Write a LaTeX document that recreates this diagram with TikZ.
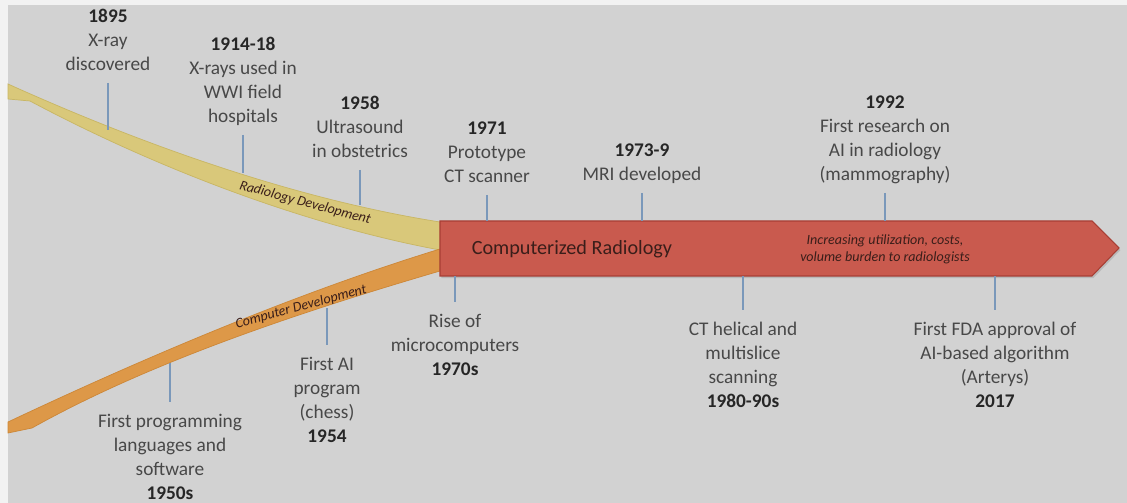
\documentclass[tikz,border=0pt]{standalone}
\usepackage{fontspec}
\setmainfont{Carlito}
\usetikzlibrary{shadows}

\definecolor{bggray}{RGB}{210,210,210}
\definecolor{txtgray}{RGB}{72,72,72}
\definecolor{yrblack}{RGB}{38,38,38}
\definecolor{tickblue}{RGB}{122,152,186}
\definecolor{radyel}{RGB}{217,200,122}
\definecolor{radyeledge}{RGB}{200,182,100}
\definecolor{comporg}{RGB}{221,152,72}
\definecolor{comporgedge}{RGB}{204,135,56}
\definecolor{crred}{RGB}{201,90,78}
\definecolor{crrededge}{RGB}{168,62,52}
\definecolor{crtext}{RGB}{58,30,26}

\newcommand{\yr}[1]{\textbf{\color{yrblack}#1}}

\begin{document}
\begin{tikzpicture}[x=0.02cm,y=-0.02cm,
  evt/.style={align=center,font=\fontsize{11}{13.7}\selectfont,text=txtgray,
    inner sep=0pt,outer sep=7pt,text depth=0pt},
  evtup/.style={evt,anchor=south},
  evtdn/.style={evt,anchor=north},
  tick/.style={draw=tickblue,line width=1.1pt},
  bandlbl/.style={font=\fontsize{8}{9}\selectfont\itshape,text=crtext,inner sep=0pt}]
\useasboundingbox (0,0) rectangle (1127,503);
\fill[white!95!black] (0,0) rectangle (1127,503);
\fill[bggray] (8,5) rectangle (1127,503);

% the two development bands
\filldraw[fill=radyel,draw=radyeledge,line width=.4pt]
  (8,84) .. controls (150,148) and (300,200) .. (440,222)
  -- (440,250) .. controls (300,224) and (150,165) .. (30,101) -- (8,99) -- cycle;
\filldraw[fill=comporg,draw=comporgedge,line width=.4pt]
  (8,422) .. controls (150,355) and (300,292) .. (440,249)
  -- (440,271) .. controls (300,312) and (150,362) .. (32,428) -- (8,433) -- cycle;
\node[bandlbl,rotate=-15] (lrad) at (305,203) {Radiology Development};
\node[bandlbl,rotate=15] (lcomp) at (301,307) {Computer Development};

% computerized radiology arrow
\filldraw[fill=crred,draw=crrededge,line width=.6pt,
  drop shadow={shadow xshift=.8pt,shadow yshift=-1.2pt,opacity=.3}]
  (440,221) coordinate (rtl) -- (1092,221) -- (1119,248) -- (1092,276)
  -- (440,276) coordinate (rbl) -- cycle;
\node[font=\fontsize{11.5}{13}\selectfont,text=crtext] (crad) at (572,249) {Computerized Radiology};
\node[align=center,font=\fontsize{8}{9.5}\selectfont\itshape,text=crtext] (burden) at (885,249)
  {Increasing utilization, costs,\\volume burden to radiologists};

% radiology events
\coordinate (y1895) at (108,130);
\coordinate (y1914) at (243,173);
\coordinate (y1958) at (360,205);
\node[evtup] (n1895) at (108,83) {\yr{1895}\\X-ray\\discovered};
\node[evtup] (n1914) at (243,135) {\yr{1914-18}\\X-rays used in\\WWI field\\hospitals};
\node[evtup] (n1958) at (360,170) {\yr{1958}\\Ultrasound\\in obstetrics};
\node[evtup] (n1971) at (487,195) {\yr{1971}\\Prototype\\CT scanner};
\node[evtup] (n1973) at (642,193) {\yr{1973-9}\\MRI developed};
\node[evtup] (n1992) at (885,193) {\yr{1992}\\First research on\\AI in radiology\\(mammography)};
\draw[tick] (n1895) -- (y1895);
\draw[tick] (n1914) -- (y1914);
\draw[tick] (n1958) -- (y1958);
\draw[tick] (n1971) -- (n1971 |- rtl);
\draw[tick] (n1973) -- (n1973 |- rtl);
\draw[tick] (n1992) -- (n1992 |- rtl);

% computer events
\coordinate (o1950) at (170,363);
\coordinate (o1954) at (327,308);
\node[evtdn] (n1950) at (170,402) {First programming\\languages and\\software\\\yr{1950s}};
\node[evtdn] (n1954) at (327,345) {First AI\\program\\(chess)\\\yr{1954}};
\node[evtdn] (n1970) at (455,302) {Rise of\\microcomputers\\\yr{1970s}};
\node[evtdn] (n1980) at (743,310) {CT helical and\\multislice\\scanning\\\yr{1980-90s}};
\node[evtdn] (n2017) at (995,310) {First FDA approval of\\AI-based algorithm\\(Arterys)\\\yr{2017}};
\draw[tick] (n1950) -- (o1950);
\draw[tick] (n1954) -- (o1954);
\draw[tick] (n1970) -- (n1970 |- rbl);
\draw[tick] (n1980) -- (n1980 |- rbl);
\draw[tick] (n2017) -- (n2017 |- rbl);
\end{tikzpicture}
\end{document}
